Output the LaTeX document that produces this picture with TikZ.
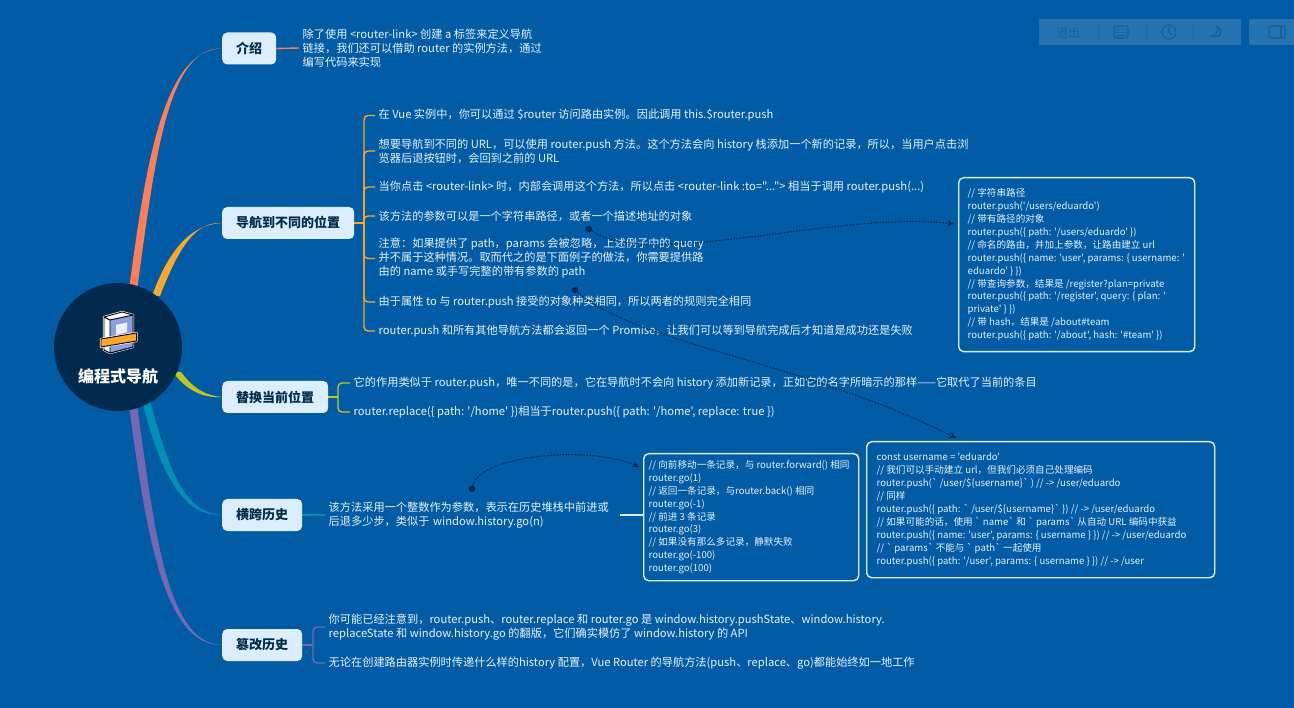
\documentclass[tikz,border=0pt]{standalone}
\usepackage{fontspec}
\setmainfont[Ligatures=TeXOff]{Noto Sans CJK SC}
\usetikzlibrary{arrows.meta,backgrounds,calc,positioning}
\definecolor{canvas}{HTML}{015CA5}
\definecolor{hubfill}{HTML}{002B4E}
\definecolor{topicfill}{HTML}{DCEEFE}
\definecolor{leaftext}{HTML}{E6F3FF}
\definecolor{barfill}{HTML}{2772B1}
\definecolor{barink}{HTML}{155FA3}
\definecolor{bookblue}{HTML}{8C9FDC}
\definecolor{lineA}{HTML}{FD7E57}
\definecolor{lineB}{HTML}{FCA829}
\definecolor{lineC}{HTML}{C3C61F}
\definecolor{lineD}{HTML}{0092B5}
\definecolor{lineE}{HTML}{7468B3}
\tikzset{
    topic/.style={fill=topicfill,rounded corners=5pt,inner sep=0pt,minimum height=32pt,
        text=hubfill,font=\fontsize{13}{15}\selectfont\bfseries,anchor=west},
    leaf/.style={anchor=west,align=left,inner sep=0pt,inner xsep=3.5pt,text=leaftext,
        font=\fontsize{11.2}{14}\selectfont},
    codebox/.style={draw=topicfill,line width=1.4pt,rounded corners=5pt,anchor=north west,
        align=flush left,inner sep=0pt,text=leaftext,font=\fontsize{9.6}{12.9}\selectfont},
    bracket/.style={line width=1.4pt,rounded corners=4pt},
    linkdot/.style={circle,fill=hubfill,inner sep=0pt,minimum size=6.5pt},
    link/.style={draw=hubfill,line width=1.2pt,dash pattern=on 1.5pt off 1.5pt,-{Stealth[length=6.5pt,width=6pt]}},
    baricon/.style={draw=barink,line width=1.2pt},
}
\newcommand{\taper}[5]{% colour, root, two controls, end
    \fill[#1] ($(#2)+(-4pt,0)$) .. controls ($(#3)+(-4.5pt,0)$) and ($(#4)+(-1.5pt,-1.5pt)$) .. (#5)
        .. controls ($(#4)+(1.5pt,1.5pt)$) and ($(#3)+(4.5pt,0)$) .. ($(#2)+(4pt,0)$) -- cycle;}
\begin{document}
\begin{tikzpicture}[x=1pt,y=-1pt]
\useasboundingbox (0,0) rectangle (1294,708);
\node[circle,fill=hubfill,minimum size=128pt,inner sep=0pt] (hub) at (118,347) {};
\node[text=white,font=\fontsize{16}{18}\selectfont\bfseries] (hubtext) at (118,376) {编程式导航};
% topics
\node[topic,minimum width=54pt] (intro) at (222,48.5) {介绍};
\node[topic,minimum width=132pt] (push) at (222,223) {导航到不同的位置};
\node[topic,minimum width=106pt] (replace) at (222,397) {替换当前位置};
\node[topic,minimum width=80pt] (travel) at (222,515) {横跨历史};
\node[topic,minimum width=80pt] (tamper) at (222,645) {篡改历史};
% leaves
\node[leaf] (introleaf) at (299,48) {除了使用 <router-link> 创建 a 标签来定义导航\\链接，我们还可以借助 router 的实例方法，通过\\编写代码来实现};
\node[leaf] (pushA) at (375,115.5) {在 Vue 实例中，你可以通过 \$router 访问路由实例。因此调用 this.\$router.push};
\node[leaf] (pushB) at (375,151) {想要导航到不同的 URL，可以使用 router.push 方法。这个方法会向 history 栈添加一个新的记录，所以，当用户点击浏\\览器后退按钮时，会回到之前的 URL};
\node[leaf] (pushC) at (375,187) {当你点击 <router-link> 时，内部会调用这个方法，所以点击 <router-link :to="..."> 相当于调用 router.push(...)};
\node[leaf] (pushD) at (375,216) {该方法的参数可以是一个字符串路径，或者一个描述地址的对象};
\node[leaf] (pushE) at (375,258.5) {注意：如果提供了 path，params 会被忽略，上述例子中的 query\\并不属于这种情况。取而代之的是下面例子的做法，你需要提供路\\由的 name 或手写完整的带有参数的 path};
\node[leaf] (pushF) at (375,302) {由于属性 to 与 router.push 接受的对象种类相同，所以两者的规则完全相同};
\node[leaf] (pushG) at (375,331) {router.push 和所有其他导航方法都会返回一个 Promise，让我们可以等到导航完成后才知道是成功还是失败};
\node[leaf] (replaceA) at (350,383) {它的作用类似于 router.push，唯一不同的是，它在导航时不会向 history 添加新记录，正如它的名字所暗示的那样——它取代了当前的条目};
\node[leaf] (replaceB) at (350,412) {router.replace(\{ path: '/home' \})相当于router.push(\{ path: '/home', replace: true \})};
\node[leaf,text width=288pt] (travelleaf) at (325,515) {该方法采用一个整数作为参数，表示在历史堆栈中前进或\\后退多少步，类似于 window.history.go(n)};
\node[leaf] (tamperA) at (325,627) {你可能已经注意到，router.push、router.replace 和 router.go 是 window.history.pushState、window.history.\\replaceState 和 window.history.go 的翻版，它们确实模仿了 window.history 的 API};
\node[leaf] (tamperB) at (325,663) {无论在创建路由器实例时传递什么样的history 配置，Vue Router 的导航方法(push、replace、go)都能始终如一地工作};
% code boxes
\node[codebox,text width=218pt,minimum height=174pt,inner xsep=9pt] (pushcode) at (958,177) {// 字符串路径\\
router.push('/users/eduardo')\\
// 带有路径的对象\\
router.push(\{ path: '/users/eduardo' \})\\
// 命名的路由，并加上参数，让路由建立 url\\
router.push(\{ name: 'user', params: \{ username: '\\
eduardo' \} \})\\
// 带查询参数，结果是 /register?plan=private\\
router.push(\{ path: '/register', query: \{ plan: '\\
private' \} \})\\
// 带 hash，结果是 /about\#team\\
router.push(\{ path: '/about', hash: '\#team' \})};
\node[codebox,text width=205pt,minimum height=127pt,inner xsep=5pt] (travelcode) at (643,453) {// 向前移动一条记录，与 router.forward() 相同\\
router.go(1)\\
// 返回一条记录，与router.back() 相同\\
router.go(-1)\\
// 前进 3 条记录\\
router.go(3)\\
// 如果没有那么多记录，静默失败\\
router.go(-100)\\
router.go(100)};
\node[codebox,text width=328pt,minimum height=136pt,inner xsep=10pt] (namedcode) at (866,441) {const username = 'eduardo'\\
// 我们可以手动建立 url，但我们必须自己处理编码\\
router.push(` /user/\$\{username\}` ) // -> /user/eduardo\\
// 同样\\
router.push(\{ path: ` /user/\$\{username\}`  \}) // -> /user/eduardo\\
// 如果可能的话，使用 ` name`  和 ` params`  从自动 URL 编码中获益\\
router.push(\{ name: 'user', params: \{ username \} \}) // -> /user/eduardo\\
// ` params`  不能与 ` path`  一起使用\\
router.push(\{ path: '/user', params: \{ username \} \}) // -> /user};
% dotted links
\node[linkdot] (dotA) at (589,229) {};
\node[linkdot] (dotB) at (575,290) {};
\node[linkdot] (dotC) at (472,489) {};
\coordinate (tipA) at (954,224);
\coordinate (tipB) at (956,438);
\coordinate (tipC) at (639,467);
\draw[link] (dotA) .. controls (650,270) and (840,210) .. (tipA);
\draw[link] (dotB) .. controls (640,345) and (800,360) .. (tipB);
\draw[link] (dotC) .. controls (480,455) and (590,445) .. (tipC);
% tool bar
\fill[barfill] (1039,19) rectangle (1241,45);
\fill[barfill] (1249,19) rectangle (1294,45);
\node[text=barink,font=\fontsize{12}{14}\selectfont] (quit) at (1068,33) {退出};
\draw[barink!70!barfill] (1098,26) -- (1098,38) (1146,26) -- (1146,38) (1193,26) -- (1193,38);
\draw[baricon,rounded corners=1.5pt] (1114,26) rectangle (1128,38);
\draw[barink,line width=1.3pt,dash pattern=on 1.5pt off 1.2pt] (1116,29.5) -- (1127,29.5) (1116,32.5) -- (1127,32.5);
\draw[baricon] (1117,35.5) -- (1125,35.5);
\draw[baricon] (1169,32) circle (7);
\draw[baricon] (1169,27.5) -- (1169,32) -- (1172,35);
\draw[baricon] (1217,26) .. controls (1224,31) and (1221,39) .. (1211,36) .. controls (1216,36) and (1219,32) .. (1217,26);
\draw[baricon,rounded corners=1.5pt] (1269,26) rectangle (1285,38);
\draw[baricon,line width=2pt] (1281,26) -- (1281,38);
% book icon
\begin{scope}[line width=0.9pt,line join=round]
\draw[white,fill=white,line width=2.2pt] (104,317) -- (122,312) -- (133,315) -- (133,347) -- (110,353) -- (104,350) -- cycle;
\draw[fill=white] (104,317) -- (122,312) -- (133,315) -- (133,347) -- (110,353) -- (104,350) -- cycle;
\draw[fill=bookblue] (110,320) -- (133,315) -- (133,347) -- (110,353) -- cycle;
\draw (104,317) -- (110,320);
\fill[white!85!bookblue] (116,325) -- (127,322.5) -- (127,332) -- (116,335) -- cycle;
\draw[white,line width=0.9pt] (116,337.5) -- (127,334.5);
\draw[white,fill=lineB,line width=2.2pt] (101,339) -- (101,347) -- (136.5,341) -- (136.5,333) -- cycle;
\draw[fill=lineB] (101,339) -- (101,347) -- (136.5,341) -- (136.5,333) -- cycle;
\end{scope}
% branches, behind the hub
\begin{scope}[on background layer]
\fill[canvas] (0,0) rectangle (1294,708);
\taper{lineA}{133,290}{150,165}{165,48}{intro.west}
\taper{lineB}{156,296}{175,245}{195,223}{push.west}
\taper{lineC}{177,372}{190,390}{205,397}{replace.west}
\taper{lineD}{146,400}{165,475}{185,515}{travel.west}
\taper{lineE}{133,405}{150,530}{165,645}{tamper.west}
\draw[lineA,line width=1.4pt] (intro.east) -- (introleaf.west);
\draw[lineD,line width=1.4pt] (travel.east) -- (travelleaf.west);
\draw[topicfill,line width=1.2pt] (travelleaf.east) -- (travelleaf.east -| travelcode.west);
\coordinate (pushstem) at (364,223);
\draw[lineB,line width=1.4pt] (push.east) -- (pushstem);
\foreach \leafname in {pushA,pushB,pushC,pushD,pushE,pushF,pushG}
    \draw[lineB,bracket] (pushstem) |- (\leafname.west);
\coordinate (replacestem) at (338,397);
\draw[lineC,line width=1.4pt] (replace.east) -- (replacestem);
\foreach \leafname in {replaceA,replaceB}
    \draw[lineC,bracket] (replacestem) |- (\leafname.west);
\coordinate (tamperstem) at (313,645);
\draw[lineE,line width=1.4pt] (tamper.east) -- (tamperstem);
\foreach \leafname in {tamperA,tamperB}
    \draw[lineE,bracket] (tamperstem) |- (\leafname.west);
\end{scope}
\end{tikzpicture}
\end{document}
